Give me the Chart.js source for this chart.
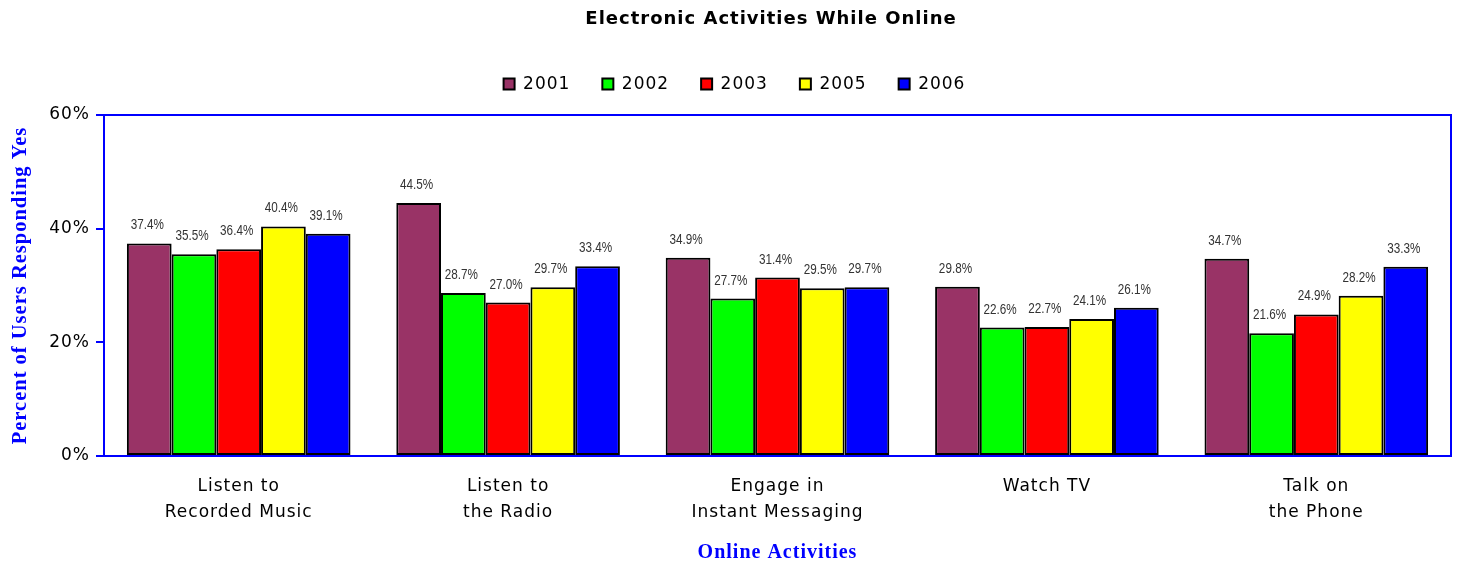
<!DOCTYPE html>
<html>
<head>
<meta charset="utf-8">
<script src="https://cdn.jsdelivr.net/npm/chart.js@4.4.1/dist/chart.umd.min.js"></script>
<style>
  html, body { margin: 0; padding: 0; background: #fff; }
  #wrap { width: 1459px; height: 565px; }
</style>
</head>
<body>
<div id="wrap"><canvas id="c" width="1459" height="565"></canvas></div>
<script>
const categories = [
  ["Listen to", "Recorded Music"],
  ["Listen to", "the Radio"],
  ["Engage in", "Instant Messaging"],
  ["Watch TV"],
  ["Talk on", "the Phone"]
];
const seriesNames = ["2001", "2002", "2003", "2005", "2006"];
const values2001 = [37.4, 44.5, 34.9, 29.8, 34.7];
const values2002 = [35.5, 28.7, 27.7, 22.6, 21.6];
const values2003 = [36.4, 27.0, 31.4, 22.7, 24.9];
const values2005 = [40.4, 29.7, 29.5, 24.1, 28.2];
const values2006 = [39.1, 33.4, 29.7, 26.1, 33.3];
const seriesColors = ["#993366", "#00FF00", "#FF0000", "#FFFF00", "#0000FF"];
const yTicks = [0, 20, 40, 60];

const allValues = [values2001, values2002, values2003, values2005, values2006];

const datasets = seriesNames.map((name, i) => ({
  label: name,
  data: allValues[i],
  backgroundColor: seriesColors[i],
  borderColor: "#000000",
  borderWidth: 2,
  borderSkipped: false,
  categoryPercentage: 0.83,
  barPercentage: 1.0
}));

const AREA = { left: 104, top: 115, right: 1451, bottom: 456 };
const TITLE_CENTER_X = 771;
const LEGEND_SHIFT_X = 9;
const SPACING = "1px";

const spacingPlugin = {
  id: "spacing",
  beforeUpdate(chart) {
    chart.ctx.letterSpacing = SPACING;
    const lg = chart.legend;
    if (lg && !lg._padPatched) {
      const origFit = lg.fit.bind(lg);
      lg.fit = function () {
        origFit();
        const tb = chart.titleBlock;
        const th = tb ? tb.height : 0;
        this.height = AREA.top - th;
      };
      lg._padPatched = true;
    }
  },
  afterLayout(chart) {
    const tb = chart.titleBlock;
    if (tb) {
      tb.left = TITLE_CENTER_X - 600;
      tb.right = TITLE_CENTER_X + 600;
    }
    const lg = chart.legend;
    if (lg) {
      lg.left += LEGEND_SHIFT_X;
      lg.right += LEGEND_SHIFT_X;
    }
  },
  beforeDraw(chart) {
    chart.ctx.letterSpacing = SPACING;
  }
};

const labelPlugin = {
  id: "valueLabels",
  afterDatasetsDraw(chart) {
    const ctx = chart.ctx;
    chart.data.datasets.forEach((ds, di) => {
      const meta = chart.getDatasetMeta(di);
      meta.data.forEach((el, i) => {
        ctx.save();
        ctx.letterSpacing = "0px";
        ctx.font = "15px 'Liberation Sans', Arial, sans-serif";
        ctx.fillStyle = "#333333";
        ctx.textAlign = "center";
        ctx.textBaseline = "alphabetic";
        ctx.translate(el.x - 2, el.y - 14);
        ctx.scale(0.78, 1);
        ctx.fillText(ds.data[i].toFixed(1) + "%", 0, 0);
        ctx.restore();
      });
    });
  }
};

const framePlugin = {
  id: "frame",
  afterDraw(chart) {
    const a = chart.chartArea;
    const ctx = chart.ctx;
    ctx.save();
    ctx.strokeStyle = "#0000FF";
    ctx.lineWidth = 2;
    ctx.strokeRect(a.left, a.top, a.right - a.left, a.bottom - a.top);
    ctx.restore();
  }
};

new Chart(document.getElementById("c"), {
  type: "bar",
  data: { labels: categories, datasets },
  options: {
    responsive: false,
    animation: false,
    layout: { padding: { left: 0, right: 1459 - AREA.right, top: 0, bottom: 0 } },
    plugins: {
      title: {
        display: true,
        text: "Electronic Activities While Online",
        color: "#000000",
        font: { family: "'DejaVu Sans', Verdana, sans-serif", size: 18, weight: "bold" },
        padding: { top: 9, bottom: 13 }
      },
      legend: {
        display: true,
        position: "top",
        labels: {
          color: "#000000",
          font: { family: "'DejaVu Sans', Verdana, sans-serif", size: 17 },
          boxWidth: 11,
          boxHeight: 11,
          padding: 32
        }
      },
      tooltip: { enabled: false }
    },
    scales: {
      x: {
        grid: { display: false, drawTicks: false },
        border: { display: true, color: "#0000FF", width: 2 },
        ticks: {
          color: "#000000",
          font: { family: "'DejaVu Sans', Verdana, sans-serif", size: 17, lineHeight: 1.55 },
          padding: 17,
          maxRotation: 0,
          autoSkip: false
        },
        title: {
          display: true,
          text: "Online Activities",
          color: "#0000FF",
          font: { family: "'Liberation Serif', 'Times New Roman', serif", size: 20, weight: "bold" },
          padding: { top: 0, bottom: 0 }
        },
        afterFit(scale) { scale.height = 565 - AREA.bottom; }
      },
      y: {
        min: 0,
        max: 60,
        afterBuildTicks(scale) { scale.ticks = yTicks.map(v => ({ value: v })); },
        grid: { display: true, drawOnChartArea: false, drawTicks: true, tickLength: 8, color: "#0000FF", lineWidth: 2 },
        border: { display: true, color: "#0000FF", width: 2 },
        ticks: {
          color: "#000000",
          font: { family: "'DejaVu Sans', Verdana, sans-serif", size: 17 },
          padding: 6,
          callback: v => v + "%"
        },
        title: {
          display: true,
          text: "Percent of Users Responding Yes",
          color: "#0000FF",
          font: { family: "'Liberation Serif', 'Times New Roman', serif", size: 20.5, weight: "bold" },
          padding: { top: 8, bottom: 0 }
        },
        afterFit(scale) { scale.width = AREA.left; }
      }
    }
  },
  plugins: [spacingPlugin, labelPlugin, framePlugin]
});
</script>
</body>
</html>
